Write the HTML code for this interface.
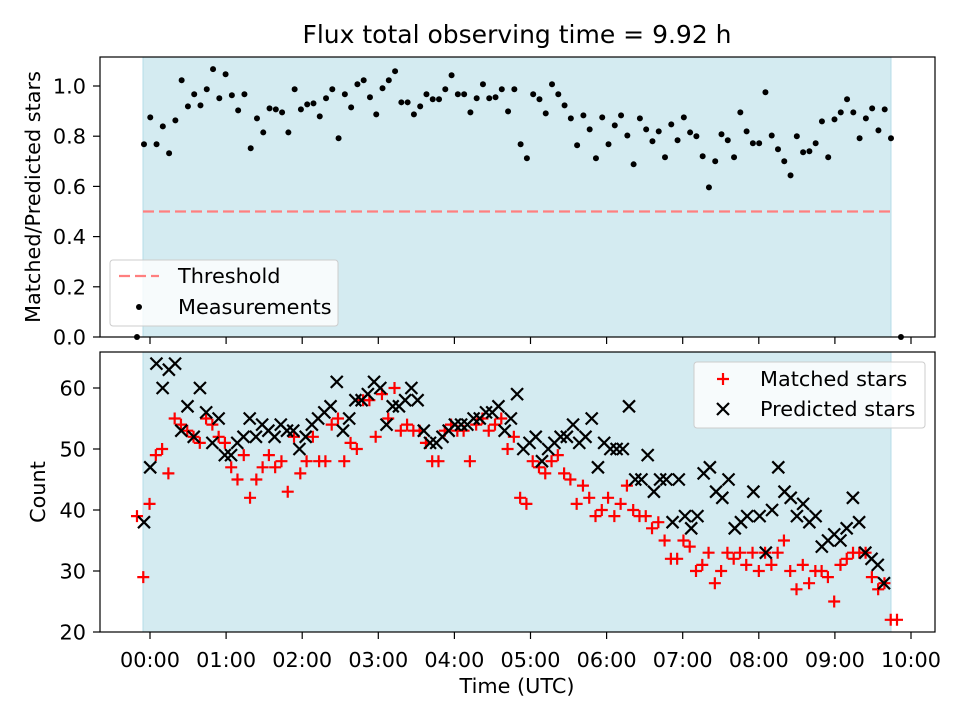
<!DOCTYPE html>
<html><head><meta charset="utf-8"><style>
body{margin:0;background:#fff;font-family:"Liberation Sans","DejaVu Sans",sans-serif}
svg text{font-family:"DejaVu Sans","Liberation Sans",sans-serif;fill:#000}
</style></head><body>
<svg id="c" width="960" height="720" xmlns="http://www.w3.org/2000/svg"></svg>
<script>
const ratio=[0.768,0.875,0.768,0.839,0.732,0.863,1.023,0.919,0.967,0.923,0.987,1.067,0.951,1.047,0.963,0.903,0.967,0.752,0.871,0.815,0.911,0.907,0.895,0.815,0.987,0.907,0.927,0.931,0.879,0.951,0.987,0.792,0.967,0.915,1.007,1.023,0.955,0.887,0.991,1.023,1.059,0.935,0.935,0.887,0.919,0.967,0.947,0.947,0.987,1.043,0.967,0.967,0.895,0.951,1.007,0.951,0.955,0.987,0.899,0.987,0.768,0.712,0.967,0.947,0.891,1.007,0.967,0.923,0.871,0.764,0.883,0.827,0.712,0.875,0.768,0.843,0.883,0.803,0.688,0.871,0.827,0.780,0.819,0.716,0.847,0.784,0.875,0.815,0.800,0.720,0.596,0.700,0.808,0.784,0.716,0.895,0.819,0.772,0.772,0.975,0.803,0.748,0.700,0.644,0.800,0.736,0.740,0.772,0.859,0.716,0.867,0.895,0.947,0.895,0.792,0.871,0.911,0.823,0.907,0.792];
const ratioStart=-0.079, ratioEnd=9.737;
const ratioEdgeTimes=[-0.171,9.868];
const ratioEdgeVals=[0,0];
const matched=[39,29,41,49,50,46,55,54,53,52,51,55,54,52,51,47,45,49,42,45,47,49,47,48,43,52,46,48,52,48,48,54,55,48,51,50,58,58,52,59,55,60,53,54,53,53,51,48,48,53,54,53,53,48,54,55,53,54,55,50,52,42,41,48,47,46,48,49,46,45,41,44,42,39,40,42,39,41,44,40,39,39,37,38,35,32,32,35,34,30,31,33,28,30,33,32,33,31,33,30,33,31,33,35,30,27,31,28,30,30,29,25,31,32,33,33,33,29,27,28,22,22];
const matchedStart=-0.171, matchedEnd=9.816;
const predicted=[38,47,64,60,63,64,53,57,52,60,56,51,55,49,49,51,52,55,52,54,53,52,54,53,53,50,52,54,55,56,57,61,53,55,58,58,59,61,60,54,57,57,58,60,58,53,51,51,52,53,54,54,54,55,55,56,56,57,53,55,59,50,51,52,48,50,51,52,52,54,51,52,55,47,51,50,50,50,57,45,45,49,43,45,45,38,45,39,37,39,46,47,43,42,45,37,38,39,43,39,33,40,47,43,42,39,41,38,39,34,35,36,35,37,42,38,33,32,31,28];
const predStart=-0.079, predEnd=9.645;
const xTicks=[0,1,2,3,4,5,6,7,8,9,10];
const xTickLabels=["00:00","01:00","02:00","03:00","04:00","05:00","06:00","07:00","08:00","09:00","10:00"];
const topTicks=[0,0.2,0.4,0.6,0.8,1.0];
const topTickLabels=["0.0","0.2","0.4","0.6","0.8","1.0"];
const botTicks=[20,30,40,50,60];
const threshold=0.5;
const spanStart=-0.092, spanEnd=9.737;

const NS="http://www.w3.org/2000/svg", svg=document.getElementById('c');
function mk(t,a,p){const e=document.createElementNS(NS,t);for(const k in a)e.setAttribute(k,a[k]);(p||svg).appendChild(e);return e;}
const L=100,R=935,T1=57,B1=337,T2=352,B2=632;
const X=t=>150+t*76.1;
const Y1=v=>B1-v*251;
const Y2=v=>B2-(v-20)*6.1;
function tAt(s,e,n,i){return s+(e-s)*i/(n-1);}
const FS=20.8, M=6, DR=3;

let e=mk('text',{x:517,y:43,'font-size':25,'text-anchor':'middle'});e.textContent='Flux total observing time = 9.92 h';



[[T1,B1,'top-panel'],[T2,B2,'bottom-panel']].forEach(([t,b,n])=>{
  let g=mk('g',{});
  
  
  let s=mk('rect',{x:X(spanStart),y:t,width:X(spanEnd)-X(spanStart),height:b-t,fill:'#d4ebf1',stroke:'#b5dce8','stroke-width':1},g);
  
  
});

e=mk('line',{x1:X(spanStart),x2:X(9.76),y1:Y1(threshold),y2:Y1(threshold),stroke:'#ff7f7f','stroke-width':2.2,'stroke-dasharray':'11,5'});



ratio.forEach((v,i)=>{const c=mk('circle',{cx:X(tAt(ratioStart,ratioEnd,ratio.length,i)),cy:Y1(v),r:DR,fill:'#000'});

});
ratioEdgeTimes.forEach((t,i)=>{const c=mk('circle',{cx:X(t),cy:Y1(ratioEdgeVals[i]),r:DR,fill:'#000'});

});

matched.forEach((v,i)=>{const x=X(tAt(matchedStart,matchedEnd,matched.length,i)),y=Y2(v);
const p=mk('path',{d:`M${x-M},${y}H${x+M}M${x},${y-M}V${y+M}`,stroke:'#f00','stroke-width':2.2});

});
predicted.forEach((v,i)=>{const x=X(tAt(predStart,predEnd,predicted.length,i)),y=Y2(v);
const p=mk('path',{d:`M${x-M},${y-M}L${x+M},${y+M}M${x-M},${y+M}L${x+M},${y-M}`,stroke:'#000','stroke-width':2.2});

});

[[T1,B1],[T2,B2]].forEach(([t,b])=>{const r=mk('rect',{x:L,y:t,width:R-L,height:b-t,fill:'none',stroke:'#000','stroke-width':1.2});

});

xTicks.forEach((h,i)=>{const x=X(h);
mk('line',{x1:x,x2:x,y1:B1,y2:B1+7,stroke:'#000','stroke-width':1.2});
mk('line',{x1:x,x2:x,y1:B2,y2:B2+7,stroke:'#000','stroke-width':1.2});
const t=mk('text',{x:x,y:B2+35,'font-size':FS,'text-anchor':'middle'});t.textContent=xTickLabels[i];

});
topTicks.forEach((v,i)=>{const y=Y1(v);mk('line',{x1:L-7,x2:L,y1:y,y2:y,stroke:'#000','stroke-width':1.2});
const t=mk('text',{x:L-14,y:y+7.5,'font-size':FS,'text-anchor':'end'});t.textContent=topTickLabels[i];

});
botTicks.forEach(v=>{const y=Y2(v);mk('line',{x1:L-7,x2:L,y1:y,y2:y,stroke:'#000','stroke-width':1.2});
const t=mk('text',{x:L-14,y:y+7.5,'font-size':FS,'text-anchor':'end'});t.textContent=v;

});

e=mk('text',{x:517,y:693,'font-size':FS,'text-anchor':'middle'});e.textContent='Time (UTC)';


e=mk('text',{x:0,y:0,'font-size':FS,'text-anchor':'middle',transform:'translate(40,197) rotate(-90)'});e.textContent='Matched/Predicted stars';


e=mk('text',{x:0,y:0,'font-size':FS,'text-anchor':'middle',transform:'translate(45,492) rotate(-90)'});e.textContent='Count';



let g=mk('g',{});


mk('rect',{x:110,y:260,width:228,height:66,rx:3,fill:'#fff','fill-opacity':0.8,stroke:'#ccc'},g);
mk('line',{x1:119,x2:159,y1:276,y2:276,stroke:'#ff7f7f','stroke-width':2.2,'stroke-dasharray':'11,5'},g);
e=mk('text',{x:178,y:283,'font-size':FS},g);e.textContent='Threshold';


mk('circle',{cx:139,cy:307,r:DR,fill:'#000'},g);
e=mk('text',{x:178,y:314,'font-size':FS},g);e.textContent='Measurements';



g=mk('g',{});


mk('rect',{x:694,y:362,width:231,height:66,rx:3,fill:'#fff','fill-opacity':0.8,stroke:'#ccc'},g);
mk('path',{d:'M717,379H729M723,373V385',stroke:'#f00','stroke-width':2.2},g);
e=mk('text',{x:760,y:386,'font-size':FS},g);e.textContent='Matched stars';


mk('path',{d:'M717,403L729,415M717,415L729,403',stroke:'#000','stroke-width':2.2},g);
e=mk('text',{x:760,y:416,'font-size':FS},g);e.textContent='Predicted stars';


</script>
</body></html>
